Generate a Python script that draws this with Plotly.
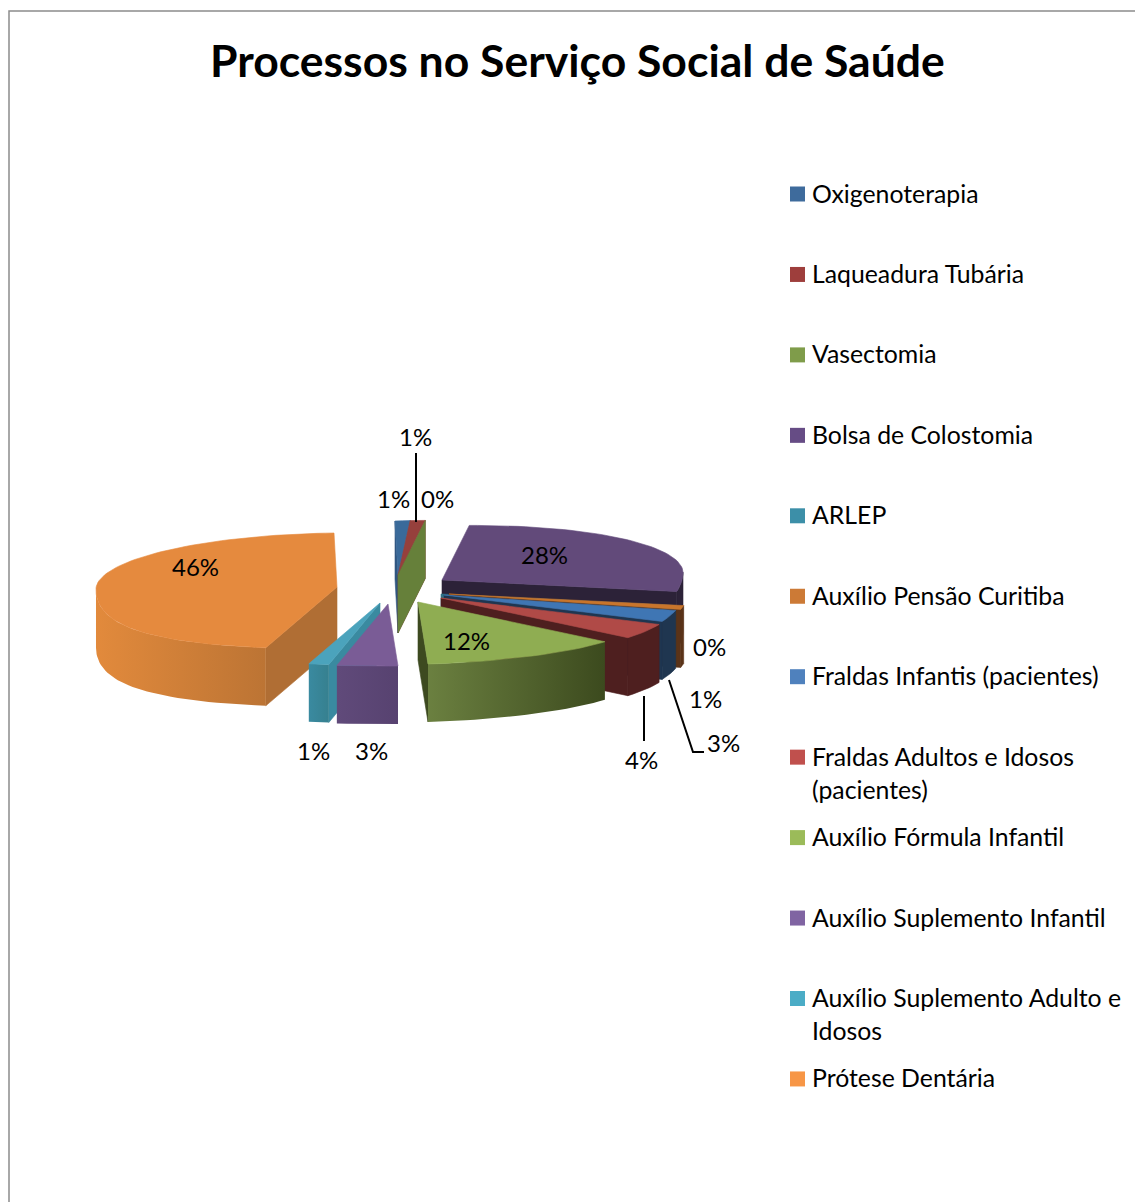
import math
import plotly.graph_objects as go

CATEGORIES = ["Oxigenoterapia", "Laqueadura Tubária", "Vasectomia", "Bolsa de Colostomia", "ARLEP",
              "Auxílio Pensão Curitiba", "Fraldas Infantis (pacientes)", "Fraldas Adultos e Idosos<br>(pacientes)",
              "Auxílio Fórmula Infantil", "Auxílio Suplemento Infantil", "Auxílio Suplemento Adulto e<br>Idosos",
              "Prótese Dentária"]
PERCENT = [1, 1, 0, 28, 0, 1, 3, 4, 12, 3, 1, 46]
LEGEND_COLORS = ["#3E6B9C", "#9E3E3C", "#7F9C4A", "#664C85", "#3C8FA8", "#CC7A36",
                 "#4F81BD", "#C0504D", "#9BBB59", "#8064A2", "#4BACC6", "#F79646"]
TOP_COLORS = ["#3A6A9A", "#96403C", "#6F8A3E", "#624A7A", "#3C8FA8", "#C9752C",
              "#3F76B4", "#B04A47", "#8FAD52", "#7A5C96", "#4BA3BC", "#E58A3E"]
SIDE_COLORS = ["#2F5680", "#7A2F2D", "#66803A", "#2C2238", "#2F7488", "#5A3318",
               "#1F3650", "#4E1F1F", "#3D4A20", "#5C4674", "#3A8AA0", "#B06E34"]
ARC_LEFT = ["#2F5680", "#7A2F2D", "#66803A", "#2C2238", "#2F7488", "#5A3318",
            "#1F3650", "#4E1F1F", "#6B8040", "#604A7A", "#3A8AA0", "#E28A3C"]
ARC_RIGHT = ["#2F5680", "#7A2F2D", "#66803A", "#2C2238", "#2F7488", "#5A3318",
             "#1F3650", "#4E1F1F", "#3C4A1E", "#574270", "#36808F", "#BC7434"]
# explosion of each slice from the pie centre, px
CENTRE = (398, 590)
EXPLODE = [(0, -15), (0, -15), (0, -15), (44, -10), (43, 4), (51, 4),
           (46, 5), (43, 8), (20, 12), (-10, 14), (-18, 13), (-61, -3)]
SHOW_END_WALL = [True, True, True, True, True, True, True, True, True, False, False, True]
DRAW_ORDER = [3, 4, 5, 6, 7, 8, 0, 1, 2, 11, 10, 9]
LABEL_TEXT = ["1%", "1%", "0%", "28%", "0%", "1%", "3%", "4%", "12%", "3%", "1%", "46%"]
LABEL_X = [393, 415, 437, 544, 709, 705, 723, 641, 466, 371, 313, 195]
LABEL_Y = [498, 436, 498, 554, 646, 698, 742, 759, 640, 750, 750, 566]
WALL = 58
FONT = "Lato"


def rim(deg):
    t = math.radians(deg)
    s, c = math.sin(t), math.cos(t)
    f = 1 if c > 0 else 1 + 0.25 * c * c
    bias = -3 * c if c > 0 else 10 * abs(c) ** 40
    x = 241 * s * f + bias
    y = -(8 if s > 0 else 3) * s - (54 if c > 0 else 62) * c
    return x, y


fig = go.Figure()
starts = []
acc = 0
for p in PERCENT:
    starts.append(acc)
    acc += p
total = sum(PERCENT)


def poly(xs, ys, color, name, grad=None):
    if grad and grad[0] != grad[1]:
        kw = dict(fillgradient=dict(type="horizontal", colorscale=[[0, grad[0]], [1, grad[1]]]))
        width = 0
    else:
        kw = dict(fillcolor=color)
        width = 0.6
    fig.add_trace(go.Scatter(x=xs + xs[:1], y=ys + ys[:1], mode="lines", fill="toself",
                             line=dict(width=width, color=color), hoverinfo="skip", name=name,
                             showlegend=False, **kw))


for i in DRAW_ORDER:
    a = starts[i] / total * 360
    b = (starts[i] + PERCENT[i]) / total * 360
    ax = CENTRE[0] + EXPLODE[i][0]
    ay = CENTRE[1] + EXPLODE[i][1]
    n = max(2, int((b - a) / 2) + 2)
    angles = [a + (b - a) * k / (n - 1) for k in range(n)]
    pts = [rim(t) for t in angles]
    rx = [ax + p[0] for p in pts]
    ry = [ay + p[1] for p in pts]
    # radial walls
    if pts[0][0] < 0:
        poly([ax, rx[0], rx[0], ax], [ay, ry[0], ry[0] + WALL, ay + WALL], SIDE_COLORS[i], CATEGORIES[i])
    if pts[-1][0] > 0 and SHOW_END_WALL[i]:
        poly([ax, rx[-1], rx[-1], ax], [ay, ry[-1], ry[-1] + WALL, ay + WALL], SIDE_COLORS[i], CATEGORIES[i])
    # outer wall: the part of the rim that runs leftwards on screen faces the viewer
    front = [k for k, t in enumerate(angles) if rim(t + 0.5)[0] < rim(t)[0]]
    if len(front) > 1 and b > a:
        fx = [rx[k] for k in front]
        fy = [ry[k] for k in front]
        poly(fx + fx[::-1], fy + [v + WALL for v in fy[::-1]], SIDE_COLORS[i], CATEGORIES[i],
             grad=(ARC_LEFT[i], ARC_RIGHT[i]))
    # top face
    if b > a:
        poly([ax] + rx, [ay] + ry, TOP_COLORS[i], CATEGORIES[i])

# leader lines
LEADERS = [([416, 416], [453, 522]), ([644, 644], [696, 741]), ([669, 693, 704], [680, 752, 752])]
for lx, ly in LEADERS:
    fig.add_trace(go.Scatter(x=lx, y=ly, mode="lines", line=dict(color="black", width=2),
                             hoverinfo="skip", showlegend=False))

# legend keys
KEY_Y = [194 + 80.45 * i for i in range(len(CATEGORIES))]
fig.add_trace(go.Scatter(x=[797.5] * len(CATEGORIES), y=KEY_Y, mode="markers",
                         marker=dict(symbol="square", size=15, color=LEGEND_COLORS, line=dict(width=0)),
                         hoverinfo="skip", showlegend=False))

ann = []
for name, y in zip(CATEGORIES, KEY_Y):
    for j, line in enumerate(name.split("<br>")):
        ann.append(dict(x=810, y=y - 1 + j * 33, text=line, showarrow=False, xanchor="left", yanchor="middle",
                        font=dict(family=FONT, size=24.8, color="black")))
for t, x, y in zip(LABEL_TEXT, LABEL_X, LABEL_Y):
    ann.append(dict(x=x, y=y, text=t, showarrow=False, xanchor="center", yanchor="middle",
                    font=dict(family=FONT, size=24, color="black")))
ann.append(dict(x=577, y=59, text="<b>Processos no Serviço Social de Saúde</b>", showarrow=False,
                xanchor="center", yanchor="middle", font=dict(family=FONT, size=44.5, color="black")))

fig.update_layout(
    width=1135, height=1202, margin=dict(l=0, r=0, t=0, b=0), showlegend=False,
    paper_bgcolor="white", plot_bgcolor="white", annotations=ann,
    xaxis=dict(range=[0, 1135], visible=False, fixedrange=True),
    yaxis=dict(range=[1202, 0], visible=False, fixedrange=True),
    shapes=[dict(type="rect", xref="x", yref="y", x0=9, y0=11, x1=1200, y1=1300,
                 line=dict(color="#8C8C8C", width=1.5), fillcolor="rgba(0,0,0,0)", layer="below")],
)
fig.write_html("out.html", config={"displayModeBar": False},
               post_script="document.body.style.margin='0';document.documentElement.style.overflow='hidden';")
